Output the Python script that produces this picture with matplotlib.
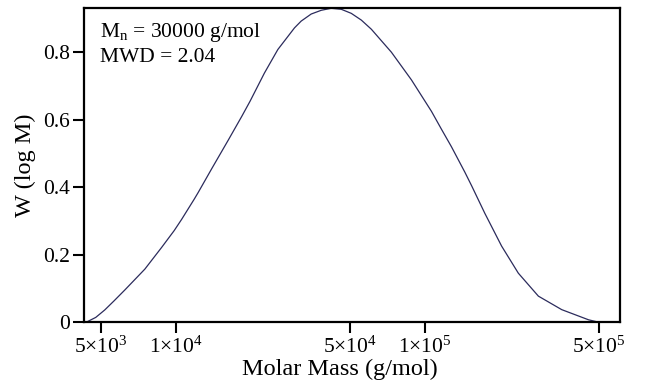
import numpy as np
import matplotlib
matplotlib.use('Agg')
import matplotlib.pyplot as plt
from matplotlib.ticker import FixedLocator, FixedFormatter, NullLocator

plt.rcParams['font.family'] = ['Liberation Serif', 'DejaVu Serif']
plt.rcParams['mathtext.fontset'] = 'custom'
plt.rcParams['mathtext.rm'] = 'Liberation Serif'
plt.rcParams['mathtext.it'] = 'Liberation Serif:italic'

# --- datos: masa molar (g/mol) y W(log M) ---
masa = [4343, 4766, 5179, 5645, 6233, 7506, 8761, 9844, 10541, 11847,
        12295, 13923, 16235, 18385, 19856, 22660, 25670, 29940, 31840, 34940,
        38330, 42050, 46130, 50600, 55540, 60920, 73330, 88270, 106200,
        116500, 127800, 144600, 153900, 174000, 203200, 237100, 285400,
        354200, 453700, 503800]
w_logm = [0.0, 0.015, 0.037, 0.064, 0.096, 0.158, 0.222, 0.272, 0.305, 0.365,
          0.385, 0.455, 0.540, 0.610, 0.655, 0.738, 0.808, 0.872, 0.892, 0.913,
          0.924, 0.930, 0.927, 0.915, 0.895, 0.868, 0.800, 0.718, 0.625,
          0.572, 0.520, 0.445, 0.405, 0.323, 0.226, 0.146, 0.078,
          0.038, 0.008, 0.0]

xticks = [5e3, 1e4, 5e4, 1e5, 5e5]
xticklabels = [r'$5{\times}10^{3}$', r'$1{\times}10^{4}$', r'$5{\times}10^{4}$',
               r'$1{\times}10^{5}$', r'$5{\times}10^{5}$']
yticks = [0, 0.2, 0.4, 0.6, 0.8]
yticklabels = ['0', '0.2', '0.4', '0.6', '0.8']

fig = plt.figure(figsize=(6.54, 3.83), dpi=100)
ax = fig.add_axes([0.1284, 0.158, 0.8196, 0.8204])

ax.plot(masa, w_logm, color='#2b2b5c', lw=0.9)
ax.set_xscale('log')
ax.set_xlim(4275, 607000)
ax.set_ylim(0, 0.93)

ax.xaxis.set_major_locator(FixedLocator(xticks))
ax.xaxis.set_major_formatter(FixedFormatter(xticklabels))
ax.xaxis.set_minor_locator(NullLocator())
ax.set_yticks(yticks)
ax.set_yticklabels(yticklabels)

ax.tick_params(direction='out', length=8, width=1.5, labelsize=15.5, pad=2)
for s in ax.spines.values():
    s.set_linewidth(1.6)

ax.set_xlabel('Molar Mass (g/mol)', fontsize=17.5)
ax.set_ylabel('W (log M)', fontsize=17.5)
ax.xaxis.set_label_coords(0.478, -0.116)
ax.yaxis.set_label_coords(-0.09, 0.5)

ax.text(0.03, 0.908, 'M$_\\mathregular{n}$ = 30000 g/mol', transform=ax.transAxes,
        ha='left', va='baseline', fontsize=15.5)
ax.text(0.03, 0.830, 'MWD = 2.04', transform=ax.transAxes,
        ha='left', va='baseline', fontsize=15.5)

fig.savefig('out.png', dpi=100)
